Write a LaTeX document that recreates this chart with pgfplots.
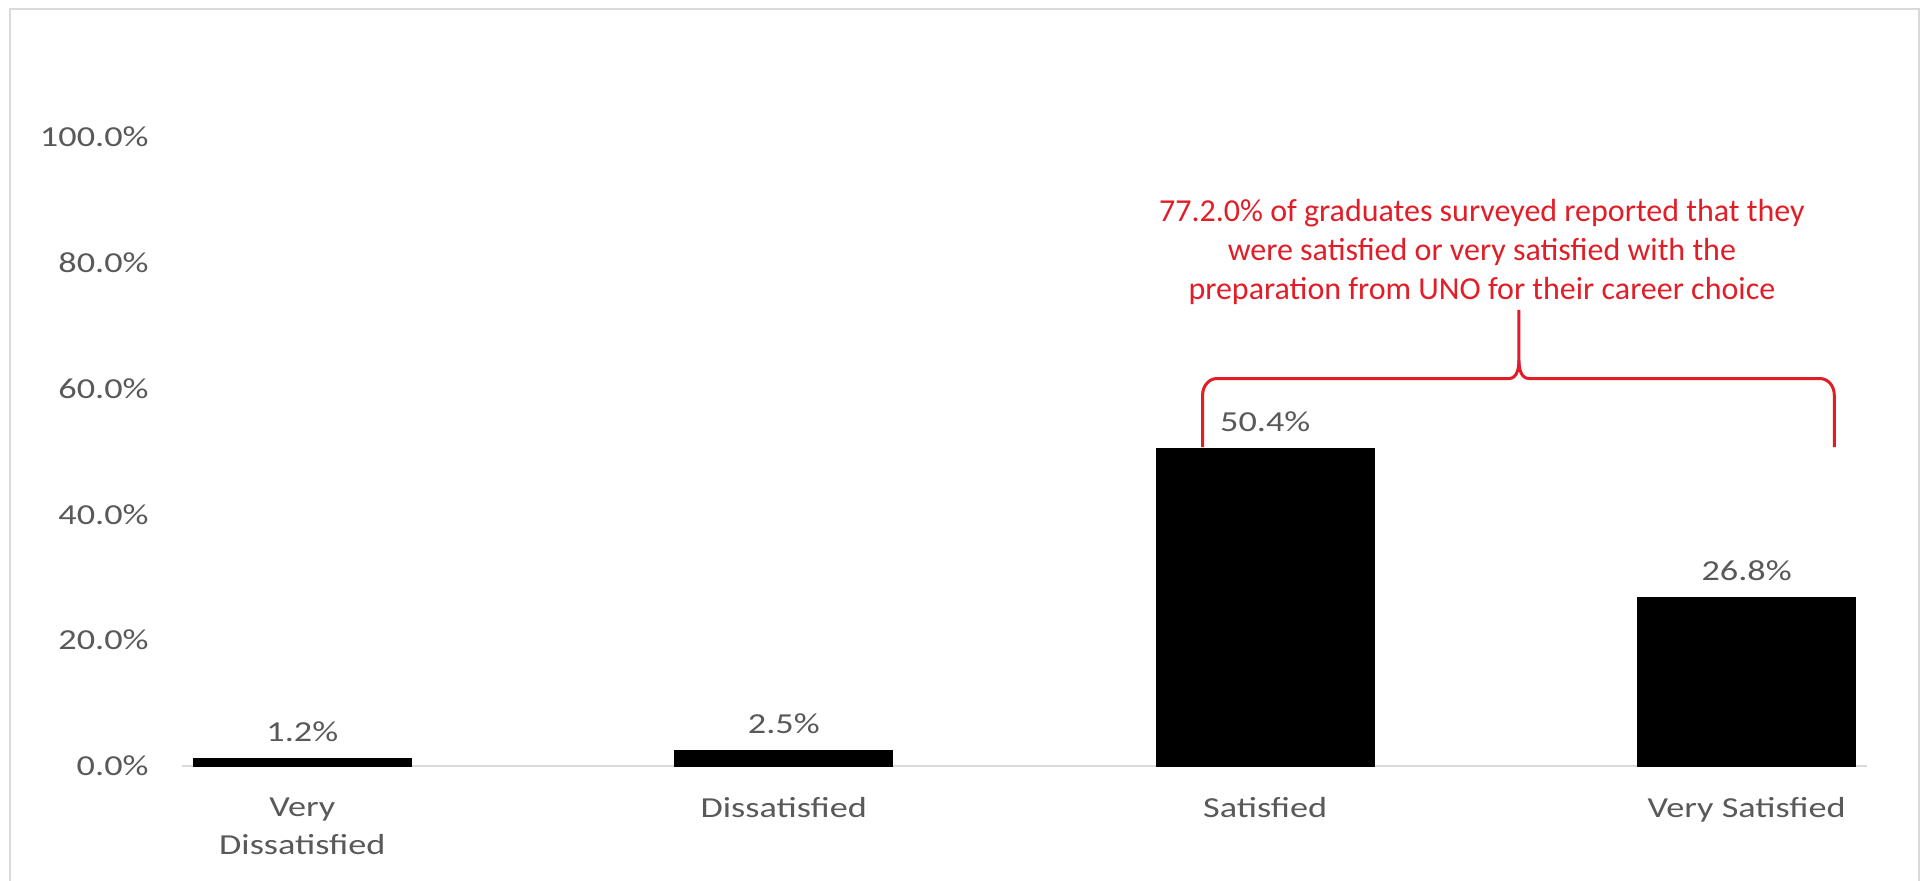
\documentclass[border=0pt]{standalone}
\usepackage{fontspec}
\setmainfont{Carlito}
\newfontfamily\wide[FakeStretch=1.25]{Carlito}
\usepackage{pgfplots}
\pgfplotsset{compat=1.18}
\definecolor{lbl}{RGB}{89,89,89}
\definecolor{framegray}{RGB}{217,217,217}
\definecolor{note}{RGB}{225,30,40}

\begin{document}
\begin{tikzpicture}
\useasboundingbox (0,0) rectangle (578.4pt,264.3pt);
\draw[framegray, line width=0.8pt] (3pt,-20pt) -- (3pt,261.6pt) -- (575.7pt,261.6pt) -- (575.7pt,-20pt);
\begin{axis}[
    at={(54.6pt,34.5pt)}, anchor=south west,
    scale only axis,
    width=505.5pt, height=188.7pt,
    xmin=-0.25, xmax=3.25,
    ymin=0, ymax=100,
    ybar,
    bar width=65.4pt,
    axis x line=bottom, axis y line=left,
    axis line style={-},
    y axis line style={draw=none},
    x axis line style={framegray, line width=0.6pt},
    major tick length=0pt,
    xtick={0,1,2,3},
    xticklabels={{Very\\Dissatisfied},Dissatisfied,Satisfied,Very Satisfied},
    x tick label style={align=center, text=lbl, font=\wide\fontsize{8.7}{11.5}\selectfont, yshift=-6pt},
    ytick={0,20,40,60,80,100},
    yticklabel={\pgfmathprintnumber[fixed,fixed zerofill,precision=1]{\tick}\%},
    y tick label style={text=lbl, font=\wide\fontsize{8.7}{10.3}\selectfont, xshift=-6.5pt},
    /pgf/number format/assume math mode=true,
    nodes near coords={\pgfmathprintnumber[fixed,fixed zerofill,precision=1]{\pgfplotspointmeta}\%},
    every node near coord/.append style={text=lbl, font=\wide\fontsize{8.7}{10.3}\selectfont, yshift=1.5pt},
    clip=false,
]
\addplot[fill=black, draw=black] coordinates {
    (0, 1.2)
    (1, 2.5)
    (2, 50.4)
    (3, 26.8)
};
\draw[note, line width=0.9pt]
    (axis cs:1.870,50.7) -- (axis cs:1.870,59.0) to[out=90,in=180] (axis cs:1.900,61.6)
    -- (axis cs:2.506,61.6) to[out=0,in=-90] (axis cs:2.527,64.5) -- (axis cs:2.527,72.5);
\draw[note, line width=0.9pt]
    (axis cs:2.527,64.5) to[out=-90,in=180] (axis cs:2.548,61.6)
    -- (axis cs:3.152,61.6) to[out=0,in=90] (axis cs:3.182,59.0) -- (axis cs:3.182,50.7);
\node[anchor=south, inner sep=0pt, align=center, text=note, font=\fontsize{9.6}{11.7}\selectfont]
    at (axis cs:2.45,73.3)
    {77.2.0\% of graduates surveyed reported that they\\
     were satisfied or very satisfied with the\\
     preparation from UNO for their career choice};
\end{axis}
\end{tikzpicture}
\end{document}
